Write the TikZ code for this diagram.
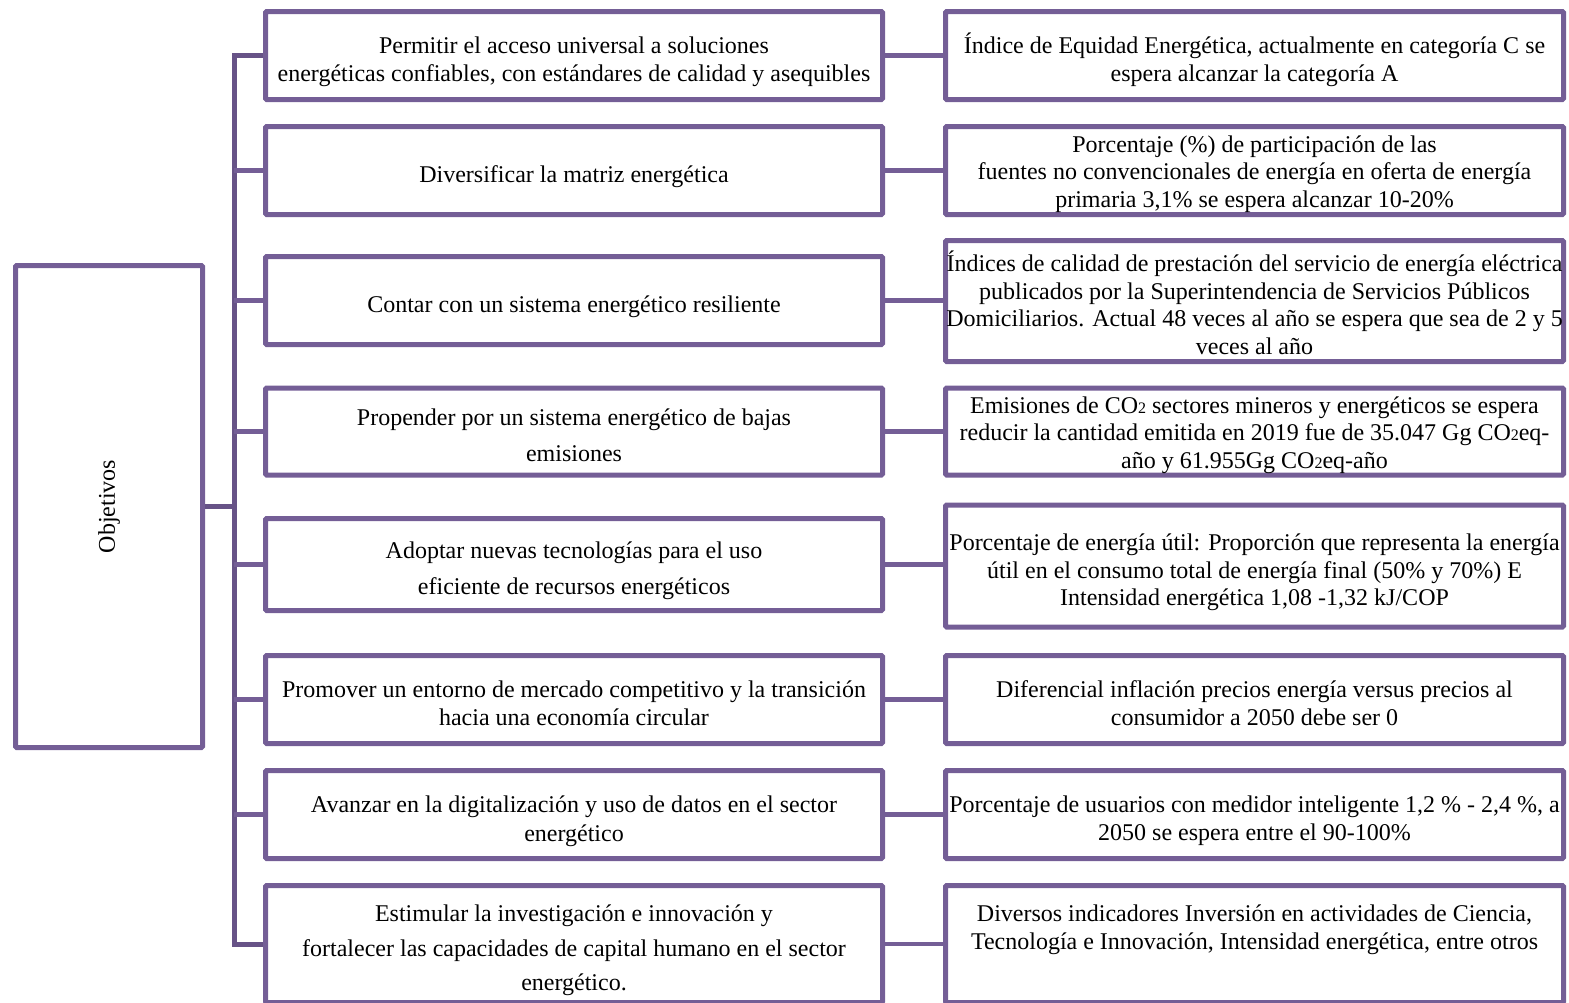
\documentclass[tikz,border=0pt]{standalone}
\usepackage{fontspec}
\setmainfont{Liberation Serif}
\usepackage{tikz}
\usetikzlibrary{positioning}
\definecolor{boxpurple}{RGB}{116,94,150}
\definecolor{trunkpurple}{RGB}{103,83,135}
\newcommand{\cotwo}{CO{\fontsize{8}{8}\selectfont 2}}
\newcommand{\ts}{\rule{0pt}{16.5pt}}% espacio arriba de la primera linea
\newcommand{\tss}{\rule{0pt}{13.5pt}}% idem, cajas llenas

\begin{document}
\begin{tikzpicture}[x=0.5pt, y=-0.5pt,
  box/.style={draw=boxpurple, line width=2.5pt, rounded corners=0.6pt, align=center,
    inner sep=0pt, font=\fontsize{12}{13.75}\selectfont},
  struts/.style={execute at end node={\rule[-4.5pt]{0pt}{4.5pt}}},
  mbox/.style={box, struts, minimum width=308.5pt, minimum height=44pt},
  rbox/.style={box, struts, minimum width=309pt, minimum height=44pt},
  tight/.style={inner ysep=-3pt},
  link/.style={draw=boxpurple, line width=2.3pt},
  trunk/.style={draw=trunkpurple, line width=2.5pt}]

\useasboundingbox (0,0) rectangle (1569,1002);
\clip (0,0) rectangle (1569,1002);

% Objetivos (izquierda)
\node[box, minimum width=93.5pt, minimum height=241pt] (obj) at (109,506.5) {\rotatebox{90}{Objetivos}};
\coordinate (tk) at (234,506.5);

% Objetivos especificos (centro)
\node[mbox] (m1) at (574,55.5) {\ts Permitir el acceso universal a soluciones\\energéticas confiables, con estándares de calidad y asequibles};
\node[mbox] (m2) at (574,170.5) {\ts Diversificar la matriz energética};
\node[mbox] (m3) at (574,300.5) {\ts Contar con un sistema energético resiliente};
\node[mbox, minimum height=43.5pt] (m4) at (574,431.5) {\ts Propender por un sistema energético de bajas\\[4.25pt]emisiones};
\node[mbox, minimum height=46pt] (m5) at (574,564.5) {\ts Adoptar nuevas tecnologías para el uso\\[4.25pt]eficiente de recursos energéticos};
\node[mbox] (m6) at (574,699.5) {\ts Promover un entorno de mercado competitivo y la transición\\hacia una economía circular};
\node[mbox] (m7) at (574,814.5) {\ts Avanzar en la digitalización y uso de datos en el sector\\[0.75pt]energético};
\node[mbox, minimum height=58.5pt] (m8) at (574,944) {\ts Estimular la investigación e innovación y\\[3.5pt]fortalecer las capacidades de capital humano en el sector\\[3.5pt]energético.};

% Indicadores (derecha)
\node[rbox] (r1) at (1254.5,55.5) {\ts Índice de Equidad Energética, actualmente en categoría C se\\espera alcanzar la categoría A};
\node[rbox, tight] (r2) at (1254.5,170.5) {\tss Porcentaje (\%) de participación de las\\fuentes no convencionales de energía en oferta de energía\\primaria 3,1\% se espera alcanzar 10-20\%};
\node[rbox, tight, minimum height=60.5pt] (r3) at (1254.5,301) {\ts Índices de calidad de prestación del servicio de energía eléctrica\\publicados por la Superintendencia de Servicios Públicos\\Domiciliarios. Actual 48 veces al año se espera que sea de 2 y 5\\veces al año};
\node[rbox, tight, minimum height=43.5pt] (r4) at (1254.5,431.5) {\tss Emisiones de \cotwo{} sectores mineros y energéticos se espera\\reducir la cantidad emitida en 2019 fue de 35.047 Gg \cotwo eq-\\año y 61.955Gg \cotwo eq-año};
\node[rbox, minimum height=61pt] (r5) at (1254.5,566) {\ts Porcentaje de energía útil: Proporción que representa la energía\\útil en el consumo total de energía final (50\% y 70\%) E\\Intensidad energética 1,08 -1,32 kJ/COP};
\node[rbox] (r6) at (1254.5,699.5) {\ts Diferencial inflación precios energía versus precios al\\consumidor a 2050 debe ser 0};
\node[rbox] (r7) at (1254.5,814.5) {\ts Porcentaje de usuarios con medidor inteligente 1,2 \% - 2,4 \%, a\\2050 se espera entre el 90-100\%};
\node[rbox, minimum height=58.5pt] (r8) at (1254.5,944) {\ts Diversos indicadores Inversión en actividades de Ciencia,\\Tecnología e Innovación, Intensidad energética, entre otros\\[7pt]\mbox{}};

% llave
\draw[trunk] (m1.west) -- (m1.west -| tk) -- (m8.west -| tk) -- (m8.west);
\draw[trunk] (obj.east) -- (tk);
\foreach \i in {2,...,7}
  \draw[link] (m\i.west) -- (m\i.west -| tk);

% objetivo -> indicador
\foreach \i in {1,...,8}
  \draw[link] (m\i.east) -- (m\i.east -| r\i.west);

\end{tikzpicture}
\end{document}
